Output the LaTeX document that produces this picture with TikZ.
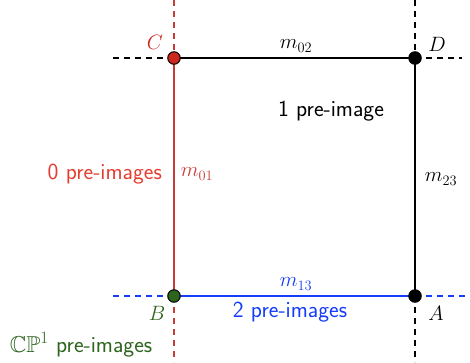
\documentclass[tikz,border=0pt]{standalone}
\usepackage{amssymb}
\definecolor{cred}{RGB}{200,60,55}
\definecolor{tred}{RGB}{228,62,50}
\definecolor{dred}{RGB}{205,40,30}
\definecolor{cgreen}{RGB}{45,100,30}
\definecolor{cblue}{RGB}{20,60,250}
\tikzset{
  dot/.style={circle,draw=black,line width=1pt,minimum size=12.5pt,inner sep=0pt},
  seg/.style={line width=1.6pt},
  dsh/.style={line width=1.4pt,dash pattern=on 6pt off 5pt},
  lab/.style={font=\fontsize{22}{26}\selectfont,inner sep=0pt},
  txt/.style={font=\fontsize{23}{27}\selectfont\sffamily,inner sep=0pt}
}
\begin{document}
\begin{tikzpicture}[x=1pt,y=-1pt]
\useasboundingbox (0,0) rectangle (470,362);
% end coordinates
\coordinate (Ctop) at (174,0);
\coordinate (Bbot) at (174,362);
\coordinate (Dtop) at (415,0);
\coordinate (Abot) at (415,362);
\coordinate (Cleft) at (113,58);
\coordinate (Dright) at (462,58);
\coordinate (Bleft) at (113,296);
\coordinate (Aright) at (466,296);
\coordinate (Cp) at (174,58);
\coordinate (Dp) at (415,58);
\coordinate (Bp) at (174,296);
\coordinate (Ap) at (415,296);
% dashed lines
\draw[dsh,cred] (Ctop) -- (Cp);
\draw[dsh,cred] (Bp) -- (Bbot);
\draw[dsh,black] (Dtop) -- (Dp);
\draw[dsh,black] (Ap) -- (Abot);
\draw[dsh,black] (Cleft) -- (Cp);
\draw[dsh,black] (Dp) -- (Dright);
\draw[dsh,cblue] (Bleft) -- (Bp);
\draw[dsh,cblue] (Ap) -- (Aright);
% solid segments
\draw[seg,black] (Cp) -- (Dp);
\draw[seg,black] (Dp) -- (Ap);
\draw[seg,cblue] (Bp) -- (Ap);
\draw[seg,cred] (Cp) -- (Bp);
% dots
\node[dot,fill=dred] (C) at (Cp) {};
\node[dot,fill=black] (D) at (Dp) {};
\node[dot,fill=cgreen] (B) at (Bp) {};
\node[dot,fill=black] (A) at (Ap) {};
% labels
\node[lab,text=dred] (lC) at (155,42) {$C$};
\node[lab] (lD) at (437,44) {$D$};
\node[lab,text=cgreen] (lB) at (157,313) {$B$};
\node[lab] (lA) at (436,313) {$A$};
\node[lab] (m02) at (296,46) {$m_{02}$};
\node[lab,text=cred] (m01) at (197,174) {$m_{01}$};
\node[lab] (m23) at (441,179) {$m_{23}$};
\node[lab,text=cblue] (m13) at (296,284) {$m_{13}$};
\node[txt] (one) at (331,111) {1 pre-image};
\node[txt,text=tred,anchor=east] (zero) at (162,174) {0 pre-images};
\node[txt,text=cblue] (two) at (290,312) {2 pre-images};
\node[txt,text=cgreen] (cp) at (81,345) {$\mathbb{CP}^1$ pre-images};
\end{tikzpicture}
\end{document}
